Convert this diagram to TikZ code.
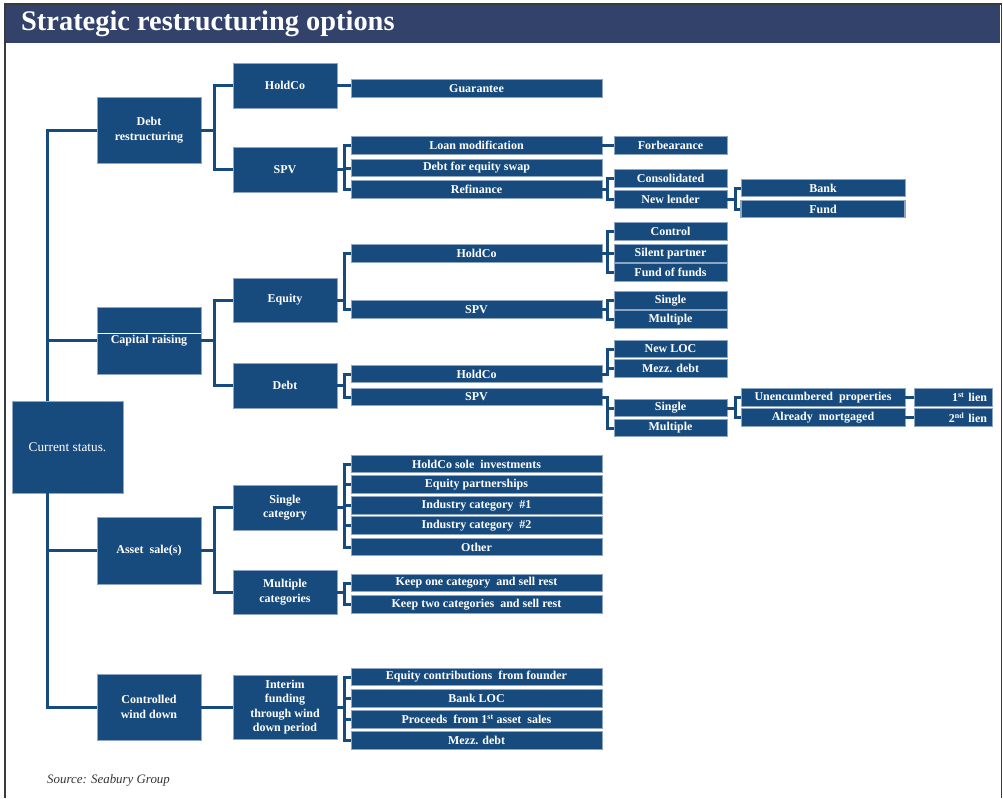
\documentclass[tikz,border=0pt]{standalone}
\usepackage{fontspec}
\setmainfont{Liberation Serif}
\definecolor{boxblue}{HTML}{174B7D}
\definecolor{boxedge}{HTML}{8EA6C4}
\definecolor{titleblue}{HTML}{33426B}
\definecolor{framegray}{HTML}{3A3A3A}
\definecolor{srcgray}{HTML}{333333}
\tikzset{
  base/.style={fill=boxblue, draw=boxedge, line width=0.7pt, text=white,
    font=\fontsize{12}{14.5}\selectfont\bfseries, align=center, inner sep=0pt},
  lvone/.style={base, minimum width=104pt},
  lvtwo/.style={base, minimum width=104pt},
  bar/.style={base, minimum width=251pt, minimum height=17.5pt},
  lvfour/.style={base, minimum width=113pt, minimum height=17.5pt},
  lvfive/.style={base, minimum width=164pt, minimum height=17.5pt},
  lvsix/.style={base, minimum width=78pt, minimum height=17.5pt, text width=68pt, align=right},
  conn/.style={draw=boxblue, line width=3pt},
}
\begin{document}
\begin{tikzpicture}[x=1pt,y=-1pt]
\useasboundingbox (0,0) rectangle (1003,798);
% frame and title
\draw[framegray, line width=1.5pt] (5,798) -- (5,4) -- (1001.5,4) -- (1001.5,798);
\node[fill=titleblue, minimum width=994pt, minimum height=37.5pt, inner sep=0pt, anchor=north west] (titlebar) at (6,5.2) {};
\node[anchor=west, text=white, font=\fontsize{28.4}{30}\selectfont\bfseries, inner sep=0pt] (title) at (21,23.5) {Strategic restructuring options};
\node[anchor=west, text=srcgray, font=\fontsize{12.9}{15}\selectfont\itshape, inner sep=0pt] (source) at (47,780) {Source: Seabury Group};

% bus coordinates
\coordinate (tr) at (47,0);
\coordinate (b2) at (214,0);
\coordinate (b3) at (344,0);
\coordinate (b4) at (607,0);
\coordinate (b5) at (735,0);

% level 0
\node[base, font=\fontsize{13.3}{15}\selectfont, minimum width=111pt, minimum height=92pt] (cur) at (67.5,447) {Current status.};

% level 1
\node[lvone, minimum height=66pt] (dr) at (149,130) {Debt\\restructuring};
\node[lvone, minimum height=67pt] (cr) at (149,340.5) {Capital raising};
\node[lvone, minimum height=67pt] (as) at (149,550.5) {Asset\ \ sale(s)};
\node[lvone, minimum height=66pt] (cw) at (149,707) {Controlled\\wind down};
\draw[white, line width=0.6pt] (cr.west |- 0,333) -- (cr.east |- 0,333);

% level 2
\node[lvtwo, minimum height=45pt] (hc) at (285,85.5) {HoldCo};
\node[lvtwo, minimum height=45pt] (spv) at (285,169.5) {SPV};
\node[lvtwo, minimum height=44pt] (eq) at (285,300) {Equity};
\node[lvtwo, minimum height=45pt] (db) at (285,385.5) {Debt};
\node[lvtwo, minimum height=45pt] (sc) at (285,507.5) {Single\\category};
\node[lvtwo, minimum height=44pt] (mc) at (285,592) {Multiple\\categories};
\node[lvtwo, minimum height=64pt] (inf) at (285,707) {Interim\\funding\\through wind\\down period};

% level 3
\node[bar] (g) at (476.5,88.5) {Guarantee};
\node[bar] (lm) at (476.5,145.5) {Loan modification};
\node[bar] (dfe) at (476.5,168) {Debt for equity swap};
\node[bar] (rf) at (476.5,189.5) {Refinance};
\node[bar] (ehc) at (476.5,253.5) {HoldCo};
\node[bar] (espv) at (476.5,309.5) {SPV};
\node[bar] (dhc) at (476.5,374) {HoldCo};
\node[bar] (dspv) at (476.5,397) {SPV};
\node[bar] (a1) at (476.5,464) {HoldCo sole\ \ investments};
\node[bar] (a2) at (476.5,484.5) {Equity partnerships};
\node[bar] (a3) at (476.5,505.5) {Industry category\ \ \#1};
\node[bar] (a4) at (476.5,525.5) {Industry category\ \ \#2};
\node[bar] (a5) at (476.5,547) {Other};
\node[bar] (k1) at (476.5,583) {Keep one category\ \ and sell rest};
\node[bar] (k2) at (476.5,604.5) {Keep two categories\ \ and sell rest};
\node[bar] (w1) at (476.5,677) {Equity contributions\ \ from founder};
\node[bar] (w2) at (476.5,698.5) {Bank LOC};
\node[bar] (w3) at (476.5,719.5) {Proceeds\ \ from 1\textsuperscript{st} asset\ \ sales};
\node[bar] (w4) at (476.5,740.5) {Mezz. debt};

% level 4
\node[lvfour] (fb) at (670.5,145.5) {Forbearance};
\node[lvfour] (con) at (670.5,178.5) {Consolidated};
\node[lvfour] (nl) at (670.5,199.5) {New lender};
\node[lvfour] (ctl) at (670.5,231.5) {Control};
\node[lvfour] (sp) at (670.5,253.5) {Silent partner};
\node[lvfour] (fof) at (670.5,272.5) {Fund of funds};
\node[lvfour] (sa) at (670.5,300.5) {Single};
\node[lvfour] (ma) at (670.5,319.5) {Multiple};
\node[lvfour] (nloc) at (670.5,349) {New LOC};
\node[lvfour] (mz) at (670.5,368.5) {Mezz. debt};
\node[lvfour] (sb) at (670.5,408) {Single};
\node[lvfour] (mb) at (670.5,428) {Multiple};

% level 5
\node[lvfive] (bank) at (823,188) {Bank};
\node[lvfive, line width=1.4pt] (fund) at (823,209) {Fund};
\node[lvfive] (ue) at (823,397.5) {Unencumbered\ \ properties};
\node[lvfive] (am) at (823,417.5) {Already\ \ mortgaged};

% level 6
\node[lvsix] (la) at (953,397.5) {1\textsuperscript{st} lien};
\node[lvsix] (lb) at (953,417.5) {2\textsuperscript{nd} lien};

% trunk
\draw[conn] (cur.north -| tr) |- (dr.west);
\draw[conn] (cur.north -| tr) |- (cr.west);
\draw[conn] (cur.south -| tr) |- (as.west);
\draw[conn] (cur.south -| tr) |- (cw.west);

% level 1 -> 2
\foreach \p/\c in {dr/hc, dr/spv, cr/eq, cr/db, as/sc, as/mc}
  \draw[conn] (\p.east) -- (\p.east -| b2) |- (\c.west);
\draw[conn] (cw.east) -- (cw.east -| inf.west);

% level 2 -> 3
\draw[conn] (hc.east) -- (hc.east -| g.west);
\foreach \p/\c in {spv/lm, spv/dfe, spv/rf, eq/ehc, eq/espv, db/dhc, db/dspv,
  sc/a1, sc/a2, sc/a3, sc/a4, sc/a5, mc/k1, mc/k2, inf/w1, inf/w2, inf/w3, inf/w4}
  \draw[conn] (\p.east) -- (\p.east -| b3) |- (\c.west);

% level 3 -> 4
\draw[conn] (lm.east) -- (lm.east -| fb.west);
\foreach \p/\c in {rf/con, rf/nl, ehc/ctl, ehc/sp, ehc/fof, espv/sa, espv/ma,
  dhc/nloc, dhc/mz, dspv/sb, dspv/mb}
  \draw[conn] (\p.east) -- (\p.east -| b4) |- (\c.west);

% level 4 -> 5
\foreach \p/\c in {nl/bank, nl/fund, sb/ue, sb/am}
  \draw[conn] (\p.east) -- (\p.east -| b5) |- (\c.west);

% level 5 -> 6
\draw[conn] (ue.east) -- (la.west);
\draw[conn] (am.east) -- (lb.west);
\end{tikzpicture}
\end{document}
